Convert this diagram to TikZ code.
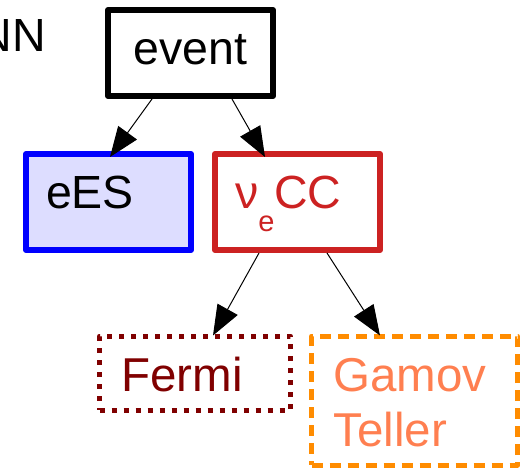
\documentclass[tikz,border=0pt]{standalone}
\usepackage{fontspec}
\setmainfont{Liberation Sans}
\usepackage{xcolor}
\usepackage{tikz}
\usetikzlibrary{arrows.meta, positioning}

\definecolor{ccred}{RGB}{204,34,34}
\definecolor{fermired}{RGB}{128,0,0}
\definecolor{gtorange}{RGB}{255,140,0}
\definecolor{gttext}{RGB}{255,127,80}
\definecolor{eesfill}{RGB}{221,221,255}

\tikzstyle{classbox} = [rectangle, draw, line width=6pt, line join=round, inner xsep=20pt, inner ysep=8pt, text height=46pt, align=left, font=\fontsize{46.5}{55}\selectfont]
\tikzstyle{topbox} = [classbox, text height=47pt, text depth=23pt, text width=125pt, align=center]
\tikzstyle{midbox} = [classbox, text depth=34pt, text width=125pt]
\tikzstyle{lowbox} = [classbox, line width=5pt, inner xsep=22pt, text height=47pt, text depth=11pt, font=\fontsize{47.5}{55}\selectfont]
\tikzstyle{arrow} = [-{Triangle[length=30pt, width=23pt]}, line width=1pt]

\begin{document}
\begin{tikzpicture}

\useasboundingbox (0,0) rectangle (524pt,-468pt);
\clip (0,0) rectangle (524pt,-468pt);

% network name, runs off the left edge
\node[anchor=base east, inner sep=0pt, font=\fontsize{46.5}{55}\selectfont] (net) at (46pt,-52pt) {NN};

% classes
\node[topbox] (event) at (190.5pt,-53pt) {event};
\node[midbox, draw=blue, fill=eesfill, below=52pt of event, xshift=-82pt] (ees) {eES};
\node[midbox, draw=ccred, text=ccred, below=52pt of event, xshift=107pt] (nuecc) {ν\raisebox{-23pt}{\fontsize{29}{29}\selectfont e}CC};

% nu_e CC subclasses
\node[lowbox, draw=fermired, text=fermired, text width=147pt, dash pattern=on 5pt off 7pt, below=80.5pt of nuecc, xshift=-102.5pt] (fermi) {Fermi};
\node[lowbox, draw=gtorange, text=gttext, text width=162pt, text depth=66pt, dash pattern=on 11pt off 7pt, below=80.5pt of nuecc, xshift=117pt] (gt) {Gamov\\Teller};

% arrows
\draw[arrow] ([xshift=47pt]event.south west) -- ([xshift=87pt, yshift=-6pt]ees.north west);
\draw[arrow] ([xshift=127pt]event.south west) -- ([xshift=53pt, yshift=-6pt]nuecc.north west);
\draw[arrow] ([xshift=47pt]nuecc.south west) -- ([xshift=116pt, yshift=-2pt]fermi.north west);
\draw[arrow] ([xshift=115pt]nuecc.south west) -- ([xshift=71pt, yshift=-2pt]gt.north west);

\end{tikzpicture}
\end{document}
